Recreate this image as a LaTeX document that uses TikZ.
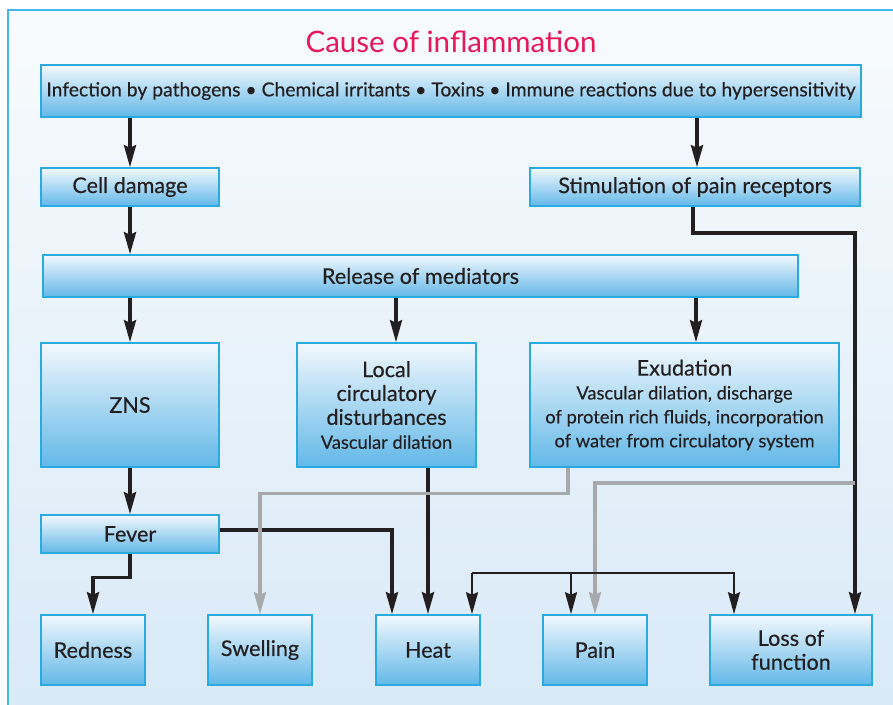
\documentclass[tikz,border=0pt]{standalone}
\usepackage{fontspec}
\setmainfont{Lato}[FakeBold=0.35]
\newfontfamily\titlefont{Lato}
\usetikzlibrary{arrows.meta,calc}

\definecolor{framecol}{RGB}{70,183,230}
\definecolor{bgtop}{RGB}{248,251,253}
\definecolor{bgbot}{RGB}{216,233,247}
\definecolor{boxtop}{RGB}{242,248,253}
\definecolor{boxbot}{RGB}{98,184,232}
\definecolor{boxline}{RGB}{41,171,226}
\definecolor{ink}{RGB}{35,31,32}
\definecolor{greyline}{RGB}{167,169,172}
\definecolor{titlecol}{RGB}{230,24,90}

\newcommand{\detailtext}{\fontsize{10.4}{13.6}\selectfont}

\tikzset{
  box/.style={draw=boxline, line width=0.9pt, top color=boxtop, bottom color=boxbot,
    text=ink, inner sep=0pt, align=center, font=\fontsize{12.3}{13.6}\selectfont},
  thickarr/.style={draw=ink, line width=1.9pt, -{Stealth[length=0.44cm,width=0.24cm,inset=0.05cm]}},
  thinarr/.style={draw=ink, line width=1.3pt, -{Stealth[length=0.44cm,width=0.24cm,inset=0.05cm]}},
  greyarr/.style={draw=greyline, line width=1.9pt, -{Stealth[length=0.44cm,width=0.24cm,inset=0.05cm]}},
}

\begin{document}
\begin{tikzpicture}[x=0.02cm, y=-0.02cm]
    \useasboundingbox (0,0) rectangle (893,704);
    % the frame
    \draw[draw=framecol, line width=1pt, top color=bgtop, bottom color=bgbot] (8,10) rectangle (910,720);

    % the title
    \node[text=titlecol, font=\titlefont\fontsize{16.8}{18}\selectfont] (title) at (451,42) {Cause of inflammation};

    % the boxes
    \node[box, minimum width=16.4cm, minimum height=1.04cm, font=\fontsize{11}{13.6}\selectfont] (cause) at (451,91)
        {Infection by pathogens • Chemical irritants • Toxins • Immune reactions due to hypersensitivity};
    \node[box, minimum width=3.56cm, minimum height=0.76cm] (cell) at (130,187) {Cell damage};
    \node[box, minimum width=6.6cm, minimum height=0.76cm] (stim) at (695,187) {Stimulation of pain receptors};
    \node[box, minimum width=15.1cm, minimum height=0.84cm] (release) at (420.5,276) {Release of mediators};
    %
    \node[box, minimum width=3.56cm, minimum height=2.48cm] (zns) at (130,405) {ZNS};
    \node[box, minimum width=3.58cm, minimum height=2.48cm] (local) at (386.5,405)
        {Local\\circulatory\\disturbances\\{\detailtext Vascular dilation}};
    \node[box, minimum width=6.18cm, minimum height=2.48cm] (exud) at (684.5,405)
        {Exudation\\{\detailtext Vascular dilation, discharge}\\{\detailtext of protein rich fluids, incorporation}\\{\detailtext of water from circulatory system}};
    \node[box, minimum width=3.56cm, minimum height=0.76cm] (fever) at (130,534) {Fever};
    %
    \node[box, minimum width=2.08cm, minimum height=1.4cm] (redness) at (93,650) {Redness};
    \node[box, minimum width=2.08cm, minimum height=1.4cm] (swelling) at (260,650) {Swelling};
    \node[box, minimum width=2.08cm, minimum height=1.4cm] (heat) at (428,650) {Heat};
    \node[box, minimum width=2.08cm, minimum height=1.4cm] (pain) at (595,650) {Pain};
    \node[box, minimum width=3.24cm, minimum height=1.4cm] (loss) at (791,650) {Loss of\\function};

    % points where the lines turn
    \coordinate (sp) at (855,233);
    \coordinate (gb) at (855,483);
    \coordinate (br) at (472,573);

    % draw the arrows
    \draw[thickarr] (cell |- cause.south) -- (cell.north);
    \draw[thickarr] ([xshift=0.04cm]stim.north |- cause.south) -- ([xshift=0.04cm]stim.north);
    \draw[thickarr] (cell.south) -- (cell |- release.north);
    \draw[thickarr] (stim.south -| 693,0) |- (sp) -- (sp |- loss.north);
    %
    \draw[thickarr] (zns |- release.south) -- (zns.north);
    \draw[thickarr] ([xshift=0.19cm]local.north |- release.south) -- ([xshift=0.19cm]local.north);
    \draw[thickarr] ([xshift=0.23cm]exud.north |- release.south) -- ([xshift=0.23cm]exud.north);
    %
    \draw[thickarr] (zns.south) -- (fever.north);
    \draw[thickarr] (fever.south) -- ++(0,24) -| (redness.north);
    \draw[thickarr] (fever.east |- 0,530) -| ([xshift=-0.72cm]heat.north);
    \draw[thickarr] (heat.north |- local.south) -- (heat.north);
    %
    \draw[greyarr] ([xshift=-2.33cm]exud.south) -- ++(0,26) -| (swelling.north);
    \draw[greyarr] (gb) -| (pain.north);
    %
    \draw[thinarr] (br) -- (br |- heat.north);
    \draw[thinarr] (br) -| ([xshift=-0.48cm]pain.north);
    \draw[thinarr] (br) -| ([xshift=-1.14cm]loss.north);
\end{tikzpicture}
\end{document}
